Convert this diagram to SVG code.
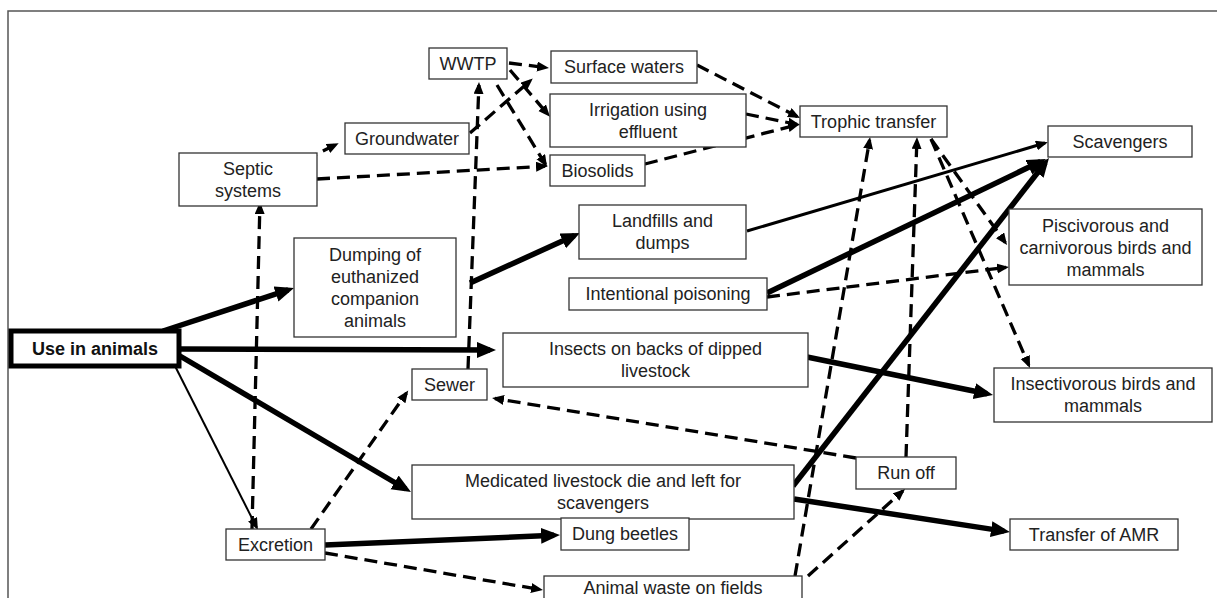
<svg xmlns="http://www.w3.org/2000/svg" width="1217" height="598" viewBox="0 0 1217 598">
<style>
.n rect{fill:#fff;stroke:#333;stroke-width:1.3}
.n text{font-family:"Liberation Sans",Arial,sans-serif;font-size:18px;fill:#222;text-anchor:middle}
.c path{fill:none;stroke:#000}
.thick{stroke-width:5.5}
.med{stroke-width:3}
.thin{stroke-width:2}
.dash{stroke-width:3.3;stroke-dasharray:13 7}
</style>
<defs>
<marker id="big" markerUnits="userSpaceOnUse" markerWidth="20" markerHeight="18" refX="13" refY="8" orient="auto" viewBox="0 0 20 18"><path d="M0,0 L19,8 L0,16 z" fill="#000"/></marker>
<marker id="sm" markerUnits="userSpaceOnUse" markerWidth="14" markerHeight="12" refX="9" refY="5" orient="auto" viewBox="0 0 14 12"><path d="M0,0 L12,5 L0,10 z" fill="#000"/></marker>
</defs>
<rect x="8" y="11" width="1220" height="600" fill="none" stroke="#555" stroke-width="1.5"/>
<g id="connectors" class="c">
<path class="thick" d="M163,331 L288.3,289.9" marker-end="url(#big)"/>
<path class="thick" d="M179,349 L490,350" marker-end="url(#big)"/>
<path class="thick" d="M180,356 L405.8,489" marker-end="url(#big)"/>
<path class="thin" d="M175,366 L256.6,527.3" marker-end="url(#sm)"/>
<path class="thick" d="M470,283 L574.5,235.5" marker-end="url(#big)"/>
<path class="med" d="M747,231 L1045,143" marker-end="url(#sm)"/>
<path class="thick" d="M767,293 L1040.6,161.6" marker-end="url(#big)"/>
<path class="thick" d="M793,486 L1045.3,162.7" marker-end="url(#big)"/>
<path class="thick" d="M794,499 L1004,531.1" marker-end="url(#big)"/>
<path class="thick" d="M807,357 L987.1,393.8" marker-end="url(#big)"/>
<path class="thick" d="M325,545 L554,535.3" marker-end="url(#big)"/>
<path class="dash" d="M252,529 L259.9,205" marker-end="url(#sm)"/>
<path class="dash" d="M311,529 L406.5,393" marker-end="url(#sm)"/>
<path class="dash" d="M468,369 L478.9,85" marker-end="url(#sm)"/>
<path class="dash" d="M305,160 L336,144.5" marker-end="url(#sm)"/>
<path class="dash" d="M317,179 L545,166.2" marker-end="url(#sm)"/>
<path class="dash" d="M470,133 L530.5,80.5" marker-end="url(#sm)"/>
<path class="dash" d="M509,63 L546,67.6" marker-end="url(#sm)"/>
<path class="dash" d="M510,70 L548,114.5" marker-end="url(#sm)"/>
<path class="dash" d="M497,85 L545.5,164.4" marker-end="url(#sm)"/>
<path class="dash" d="M697,65 L797.3,116.6" marker-end="url(#sm)"/>
<path class="dash" d="M746,114 L797,124.4" marker-end="url(#sm)"/>
<path class="dash" d="M645,164 L797,124.8" marker-end="url(#sm)"/>
<path class="dash" d="M931,139 L1005.3,242.6" marker-end="url(#sm)"/>
<path class="dash" d="M931,139 L1028.8,365.2" marker-end="url(#sm)"/>
<path class="dash" d="M906,457 L916.9,140" marker-end="url(#sm)"/>
<path class="dash" d="M795,576 L869.6,140" marker-end="url(#sm)"/>
<path class="dash" d="M808,576 L902.8,491" marker-end="url(#sm)"/>
<path class="dash" d="M856,458 L495,398.5" marker-end="url(#sm)"/>
<path class="dash" d="M767,297 L1006,267.4" marker-end="url(#sm)"/>
<path class="dash" d="M325,553 L540,589.5" marker-end="url(#sm)"/>
</g>
<g id="septic" class="n"><rect x="179" y="153" width="138" height="53"/><text x="248" y="174.5">Septic</text><text x="248" y="196.5">systems</text></g>
<g id="groundwater" class="n"><rect x="345" y="123" width="124" height="31"/><text x="407" y="145">Groundwater</text></g>
<g id="wwtp" class="n"><rect x="429" y="48" width="78" height="31"/><text x="468" y="70">WWTP</text></g>
<g id="surface" class="n"><rect x="551" y="51" width="146" height="32"/><text x="624" y="73">Surface waters</text></g>
<g id="irrigation" class="n"><rect x="550" y="94" width="196" height="53"/><text x="648" y="115.5">Irrigation using</text><text x="648" y="137.5">effluent</text></g>
<g id="biosolids" class="n"><rect x="550" y="155" width="95" height="31"/><text x="597.5" y="177">Biosolids</text></g>
<g id="trophic" class="n"><rect x="800" y="106" width="147" height="31"/><text x="873.5" y="128">Trophic transfer</text></g>
<g id="scavengers" class="n"><rect x="1048" y="126" width="144" height="31"/><text x="1120" y="148">Scavengers</text></g>
<g id="landfills" class="n"><rect x="579" y="205" width="167" height="54"/><text x="662.5" y="227">Landfills and</text><text x="662.5" y="249">dumps</text></g>
<g id="piscivorous" class="n"><rect x="1009" y="209" width="193" height="76"/><text x="1105.5" y="231.5">Piscivorous and</text><text x="1105.5" y="253.5">carnivorous birds and</text><text x="1105.5" y="275.5">mammals</text></g>
<g id="dumping" class="n"><rect x="294" y="238" width="162" height="99"/><text x="375" y="260.5">Dumping of</text><text x="375" y="282.5">euthanized</text><text x="375" y="304.5">companion</text><text x="375" y="326.5">animals</text></g>
<g id="poisoning" class="n"><rect x="569" y="278" width="198" height="32"/><text x="668" y="300">Intentional poisoning</text></g>
<g id="use" class="n"><rect x="11" y="331" width="168" height="35" style="stroke:#000;stroke-width:5"/><text x="95" y="355" style="font-weight:bold;fill:#111">Use in animals</text></g>
<g id="insects" class="n"><rect x="503" y="333" width="305" height="54"/><text x="655.5" y="355">Insects on backs of dipped</text><text x="655.5" y="377">livestock</text></g>
<g id="sewer" class="n"><rect x="412" y="369" width="75" height="31"/><text x="449.5" y="391">Sewer</text></g>
<g id="insectivorous" class="n"><rect x="994" y="368" width="218" height="54"/><text x="1103" y="390">Insectivorous birds and</text><text x="1103" y="412">mammals</text></g>
<g id="medicated" class="n"><rect x="412" y="465" width="382" height="54"/><text x="603" y="487">Medicated livestock die and left for</text><text x="603" y="509">scavengers</text></g>
<g id="runoff" class="n"><rect x="856" y="457" width="100" height="32"/><text x="906" y="479">Run off</text></g>
<g id="dung" class="n"><rect x="561" y="518" width="128" height="32"/><text x="625" y="540">Dung beetles</text></g>
<g id="amr" class="n"><rect x="1010" y="519" width="168" height="31"/><text x="1094" y="541">Transfer of AMR</text></g>
<g id="excretion" class="n"><rect x="226" y="529" width="99" height="31"/><text x="275.5" y="551">Excretion</text></g>
<g id="waste" class="n"><rect x="544" y="576" width="258" height="40"/><text x="673" y="594">Animal waste on fields</text></g>
</svg>
